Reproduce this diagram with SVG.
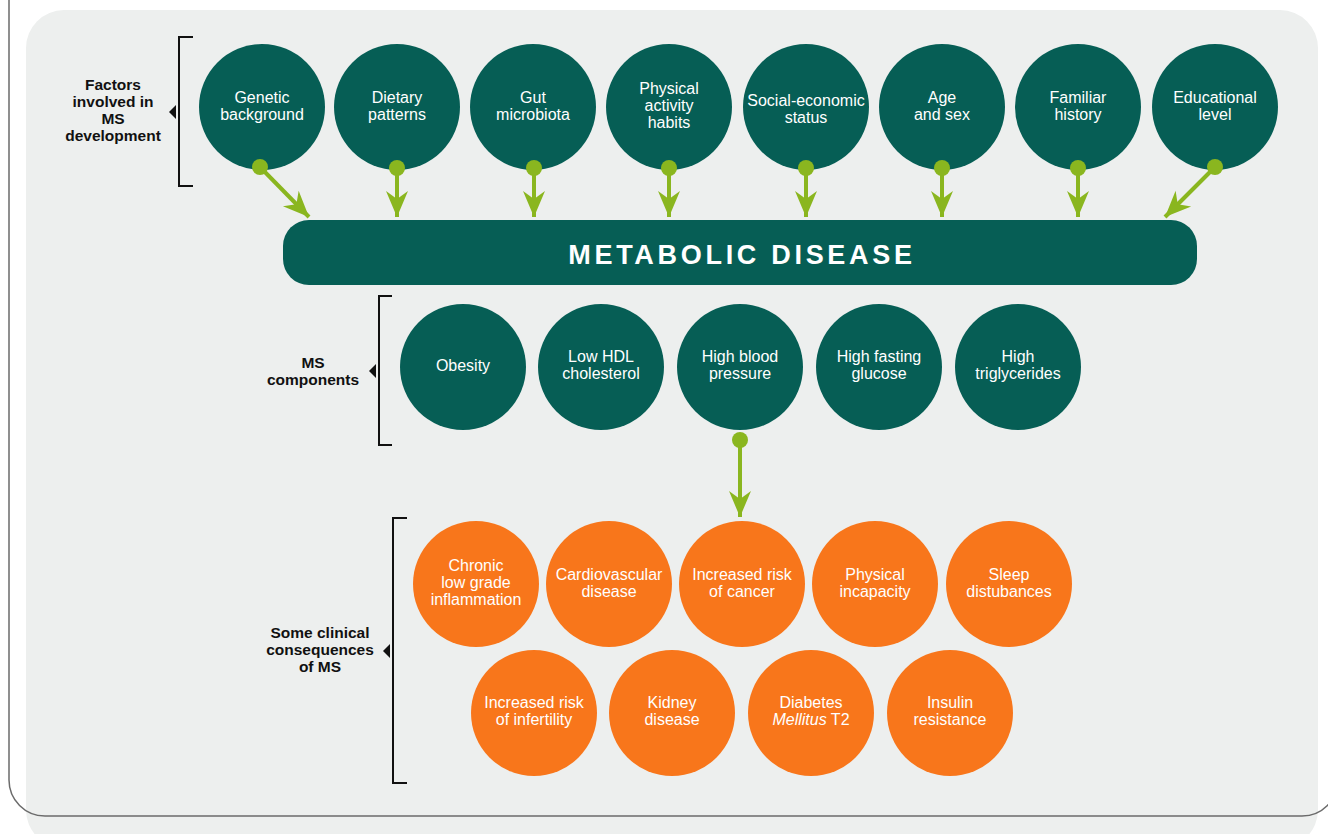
<svg xmlns="http://www.w3.org/2000/svg" width="1328" height="834" viewBox="0 0 1328 834">
<style>
.teal{fill:#065E55}
.orange{fill:#F8761B}
.ct{font-family:"Liberation Sans",Arial,sans-serif;font-size:16px;fill:#ffffff;text-anchor:middle}
.lbl{font-family:"Liberation Sans",Arial,sans-serif;font-size:15.5px;font-weight:bold;fill:#111111;text-anchor:middle}
.br{fill:none;stroke:#111111;stroke-width:2}
.conn{stroke:#8AB61F;stroke-width:4;fill:none}
.dot{fill:#8AB61F}
</style>
<defs>
<marker id="ah" markerUnits="userSpaceOnUse" markerWidth="30" markerHeight="26" viewBox="-27 -13 29 26" refX="0" refY="0" orient="auto">
<path d="M0,0 L-26,-11 L-18,0 L-26,11 Z" fill="#8AB61F"/>
</marker>
</defs>
<rect x="0" y="0" width="1328" height="834" fill="#ffffff"/>
<rect x="26" y="10" width="1292" height="838" rx="38" fill="#EDEFEE"/>
<rect x="9" y="-60" width="1329" height="876" rx="36" fill="none" stroke="#6b6b6b" stroke-width="1.5"/>

<!-- brackets and labels -->
<g id="label-factors">
<path class="br" d="M193,37 H179 V186 H193"/>
<path d="M176,105 L169,112 L176,119 Z" fill="#111"/>
<text class="lbl"><tspan x="113" y="90">Factors</tspan><tspan x="113" y="107">involved in</tspan><tspan x="113" y="124">MS</tspan><tspan x="113" y="141">development</tspan></text>
</g>
<g id="label-components">
<path class="br" d="M392,296 H379 V445 H392"/>
<path d="M376,364 L369,371 L376,378 Z" fill="#111"/>
<text class="lbl"><tspan x="313" y="368">MS</tspan><tspan x="313" y="385">components</tspan></text>
</g>
<g id="label-consequences">
<path class="br" d="M407,518 H393 V783 H407"/>
<path d="M390,644 L383,651 L390,658 Z" fill="#111"/>
<text class="lbl"><tspan x="320" y="638">Some clinical</tspan><tspan x="320" y="655">consequences</tspan><tspan x="320" y="672">of MS</tspan></text>
</g>

<!-- top factors -->
<g id="n-genetic"><circle class="teal" cx="262" cy="107" r="63"/><text class="ct"><tspan x="262" y="103">Genetic</tspan><tspan x="262" y="120">background</tspan></text></g>
<g id="n-dietary"><circle class="teal" cx="397" cy="107" r="63"/><text class="ct"><tspan x="397" y="103">Dietary</tspan><tspan x="397" y="120">patterns</tspan></text></g>
<g id="n-gut"><circle class="teal" cx="533" cy="107" r="63"/><text class="ct"><tspan x="533" y="103">Gut</tspan><tspan x="533" y="120">microbiota</tspan></text></g>
<g id="n-physical"><circle class="teal" cx="669" cy="107" r="63"/><text class="ct"><tspan x="669" y="94">Physical</tspan><tspan x="669" y="111">activity</tspan><tspan x="669" y="128">habits</tspan></text></g>
<g id="n-social"><circle class="teal" cx="806" cy="107" r="63"/><text class="ct"><tspan x="806" y="106">Social-economic</tspan><tspan x="806" y="123">status</tspan></text></g>
<g id="n-age"><circle class="teal" cx="942" cy="107" r="63"/><text class="ct"><tspan x="942" y="103">Age</tspan><tspan x="942" y="120">and sex</tspan></text></g>
<g id="n-familiar"><circle class="teal" cx="1078" cy="107" r="63"/><text class="ct"><tspan x="1078" y="103">Familiar</tspan><tspan x="1078" y="120">history</tspan></text></g>
<g id="n-educational"><circle class="teal" cx="1215" cy="107" r="63"/><text class="ct"><tspan x="1215" y="103">Educational</tspan><tspan x="1215" y="120">level</tspan></text></g>

<!-- metabolic disease -->
<g id="n-metabolic">
<rect class="teal" x="283" y="220" width="914" height="65" rx="26"/>
<text x="742" y="264" font-family="'Liberation Sans',Arial,sans-serif" font-size="27" font-weight="bold" letter-spacing="3.7" fill="#ffffff" text-anchor="middle">METABOLIC DISEASE</text>
</g>

<!-- components -->
<g id="n-obesity"><circle class="teal" cx="463" cy="367" r="63"/><text class="ct" x="463" y="371">Obesity</text></g>
<g id="n-hdl"><circle class="teal" cx="601" cy="367" r="63"/><text class="ct"><tspan x="601" y="362">Low HDL</tspan><tspan x="601" y="379">cholesterol</tspan></text></g>
<g id="n-bp"><circle class="teal" cx="740" cy="367" r="63"/><text class="ct"><tspan x="740" y="362">High blood</tspan><tspan x="740" y="379">pressure</tspan></text></g>
<g id="n-glucose"><circle class="teal" cx="879" cy="367" r="63"/><text class="ct"><tspan x="879" y="362">High fasting</tspan><tspan x="879" y="379">glucose</tspan></text></g>
<g id="n-trig"><circle class="teal" cx="1018" cy="367" r="63"/><text class="ct"><tspan x="1018" y="362">High</tspan><tspan x="1018" y="379">triglycerides</tspan></text></g>

<!-- consequences -->
<g id="n-inflammation"><circle class="orange" cx="476" cy="584" r="63"/><text class="ct"><tspan x="476" y="571">Chronic</tspan><tspan x="476" y="588">low grade</tspan><tspan x="476" y="605">inflammation</tspan></text></g>
<g id="n-cardio"><circle class="orange" cx="609" cy="584" r="63"/><text class="ct"><tspan x="609" y="580">Cardiovascular</tspan><tspan x="609" y="597">disease</tspan></text></g>
<g id="n-cancer"><circle class="orange" cx="742" cy="584" r="63"/><text class="ct"><tspan x="742" y="580">Increased risk</tspan><tspan x="742" y="597">of cancer</tspan></text></g>
<g id="n-incapacity"><circle class="orange" cx="875" cy="584" r="63"/><text class="ct"><tspan x="875" y="580">Physical</tspan><tspan x="875" y="597">incapacity</tspan></text></g>
<g id="n-sleep"><circle class="orange" cx="1009" cy="584" r="63"/><text class="ct"><tspan x="1009" y="580">Sleep</tspan><tspan x="1009" y="597">distubances</tspan></text></g>
<g id="n-infertility"><circle class="orange" cx="534" cy="713" r="63"/><text class="ct"><tspan x="534" y="708">Increased risk</tspan><tspan x="534" y="725">of infertility</tspan></text></g>
<g id="n-kidney"><circle class="orange" cx="672" cy="713" r="63"/><text class="ct"><tspan x="672" y="708">Kidney</tspan><tspan x="672" y="725">disease</tspan></text></g>
<g id="n-diabetes"><circle class="orange" cx="811" cy="713" r="63"/><text class="ct"><tspan x="811" y="708">Diabetes</tspan><tspan x="811" y="725"><tspan font-style="italic">Mellitus</tspan> T2</tspan></text></g>
<g id="n-insulin"><circle class="orange" cx="950" cy="713" r="63"/><text class="ct"><tspan x="950" y="708">Insulin</tspan><tspan x="950" y="725">resistance</tspan></text></g>

<!-- connectors -->
<g id="connectors">
<path class="conn" d="M260,167 L309,217" marker-end="url(#ah)"/>
<path class="conn" d="M397,168 V217" marker-end="url(#ah)"/>
<path class="conn" d="M534,168 V217" marker-end="url(#ah)"/>
<path class="conn" d="M669,168 V217" marker-end="url(#ah)"/>
<path class="conn" d="M806,168 V217" marker-end="url(#ah)"/>
<path class="conn" d="M942,168 V217" marker-end="url(#ah)"/>
<path class="conn" d="M1078,168 V217" marker-end="url(#ah)"/>
<path class="conn" d="M1215,167 L1165,217" marker-end="url(#ah)"/>
<path class="conn" d="M740,440 V517" marker-end="url(#ah)"/>
<circle class="dot" cx="260" cy="167" r="8"/>
<circle class="dot" cx="397" cy="168" r="8"/>
<circle class="dot" cx="534" cy="168" r="8"/>
<circle class="dot" cx="669" cy="168" r="8"/>
<circle class="dot" cx="806" cy="168" r="8"/>
<circle class="dot" cx="942" cy="168" r="8"/>
<circle class="dot" cx="1078" cy="168" r="8"/>
<circle class="dot" cx="1215" cy="167" r="8"/>
<circle class="dot" cx="740" cy="440" r="8"/>
</g>
</svg>
